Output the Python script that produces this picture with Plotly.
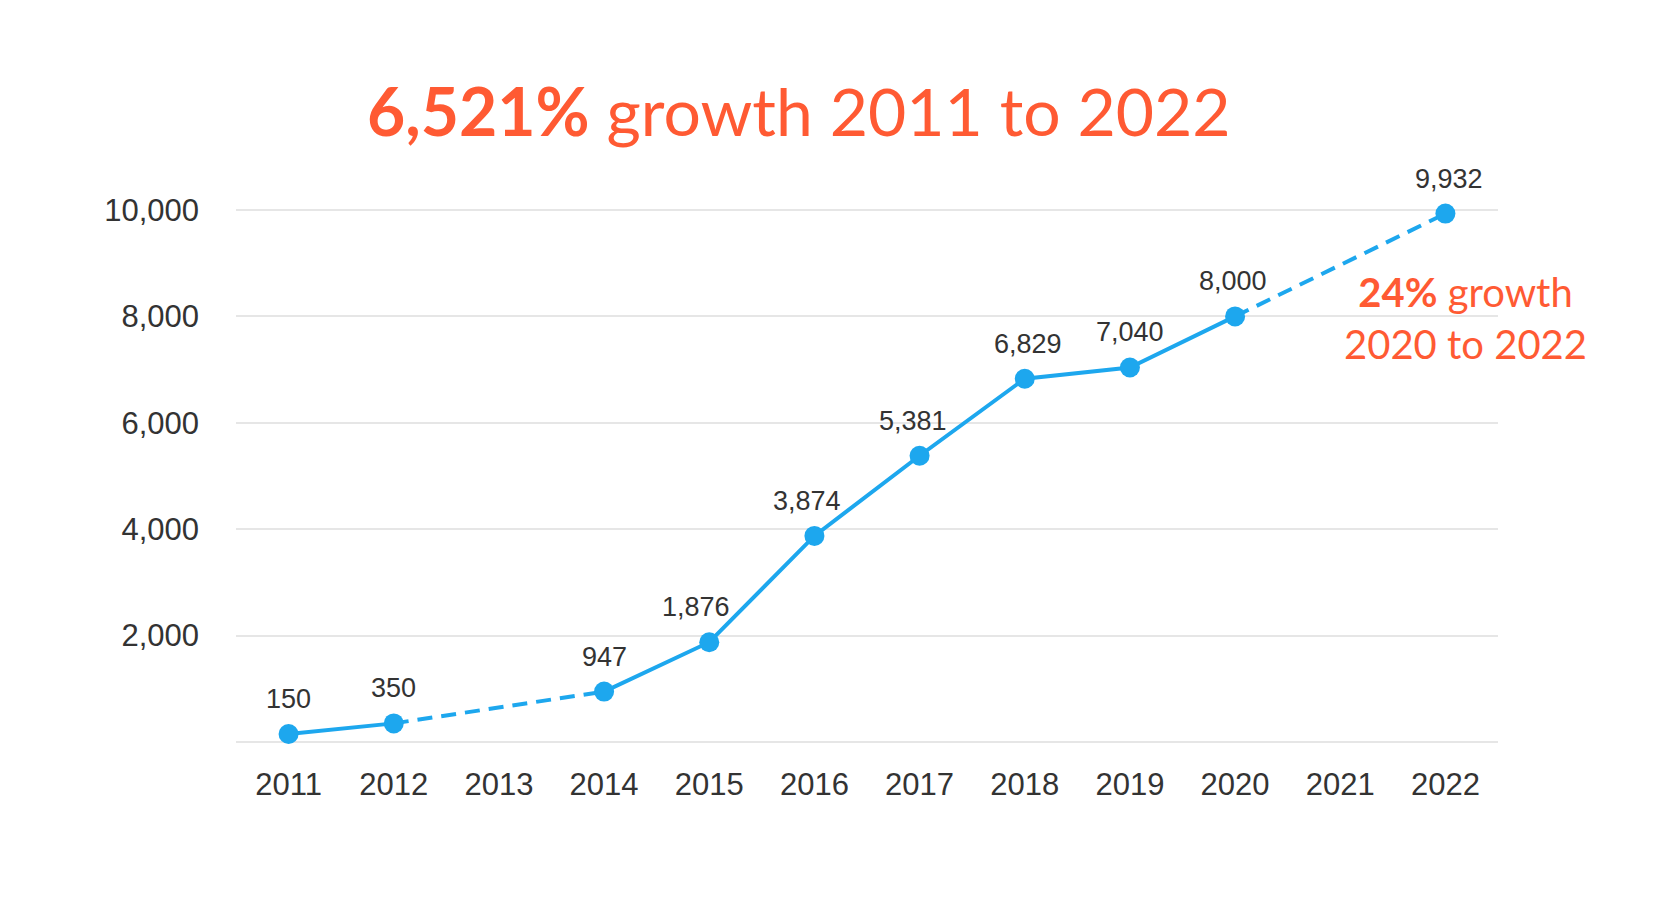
import plotly.graph_objects as go

years = ["2011", "2012", "2013", "2014", "2015", "2016", "2017", "2018", "2019", "2020", "2021", "2022"]
values = [150, 350, None, 947, 1876, 3874, 5381, 6829, 7040, 8000, None, 9932]
value_labels = ["150", "350", "", "947", "1,876", "3,874", "5,381", "6,829", "7,040", "8,000", "", "9,932"]
label_xshift = [0, 0, 0, 0, -13, -7, -7, 3, 0, -2, 0, 4]
y_ticks = [2000, 4000, 6000, 8000, 10000]
y_tick_text = ["2,000", "4,000", "6,000", "8,000", "10,000"]

BLUE = "#1DA7EE"
ORANGE = "#FF5A33"

# geometry (page body has an 8px offset)
L, R, B = 228, 185, 170
PX_PER_UNIT = 532 / 10000.0
TOP_PAD = 11  # extra px above 10,000 so its gridline is drawn
T = 904 - B - 532 - TOP_PAD
Y_MAX = 10000 + TOP_PAD / PX_PER_UNIT
PLOT_W = 1675 - L - R
PLOT_H = 904 - T - B

fig = go.Figure()

# solid segments (break at missing years)
fig.add_trace(go.Scatter(x=years, y=values, mode="lines", connectgaps=False,
                         line=dict(color=BLUE, width=4), hoverinfo="skip"))

# dashed bridges over missing years
dx, dy = [], []
for i, v in enumerate(values):
    if v is None:
        dx += [years[i - 1], years[i + 1], None]
        dy += [values[i - 1], values[i + 1], None]
fig.add_trace(go.Scatter(x=dx, y=dy, mode="lines", connectgaps=False,
                         line=dict(color=BLUE, width=4, dash="15px,9px"), hoverinfo="skip"))

# markers
px = [y for y, v in zip(years, values) if v is not None]
py = [v for v in values if v is not None]
fig.add_trace(go.Scatter(x=px, y=py, mode="markers", cliponaxis=False,
                         marker=dict(color=BLUE, size=20)))

for i, (v, t, xs) in enumerate(zip(values, value_labels, label_xshift)):
    if v is None:
        continue
    fig.add_annotation(x=i, y=v, text=t, showarrow=False, yshift=35, xshift=xs,
                       font=dict(family="Liberation Sans, Arial", size=27, color="#333333"))

def paper_x(px_):
    return (px_ - 8 - L) / PLOT_W

def paper_y(py_):
    return (904 - B - (py_ - 8)) / PLOT_H

fig.add_annotation(xref="paper", yref="paper", x=paper_x(799), y=paper_y(110),
                   text="<b>6,521%</b> growth 2011 to 2022", showarrow=False,
                   xanchor="center", yanchor="middle",
                   font=dict(family="Lato, Open Sans", size=66, color=ORANGE))

fig.add_annotation(xref="paper", yref="paper", x=paper_x(1465), y=paper_y(318),
                   text="<b>24%</b> growth<br>2020 to 2022", showarrow=False,
                   xanchor="center", yanchor="middle", align="center",
                   font=dict(family="Lato, Open Sans", size=40, color=ORANGE))

fig.update_layout(
    width=1675, height=904,
    paper_bgcolor="white", plot_bgcolor="white",
    showlegend=False,
    margin=dict(l=L, r=R, t=T, b=B, pad=0),
    xaxis=dict(type="category", categoryorder="array", categoryarray=years,
               range=[-0.5, 11.5], showgrid=False, zeroline=False, showline=False,
               tickfont=dict(family="Liberation Sans, Arial", size=31, color="#333333"),
               ticklabelstandoff=21),
    yaxis=dict(range=[0, Y_MAX], tickvals=y_ticks, ticktext=y_tick_text,
               showgrid=True, gridcolor="#E6E6E6", gridwidth=1.5,
               zeroline=True, zerolinecolor="#E6E6E6", zerolinewidth=1.5, showline=False,
               tickfont=dict(family="Liberation Sans, Arial", size=31, color="#333333"),
               ticklabelstandoff=36),
)

fig.write_html("out.html")
